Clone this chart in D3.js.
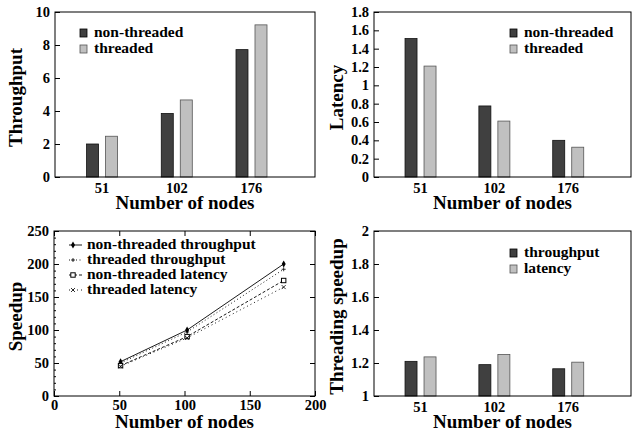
<!DOCTYPE html>
<html>
<head>
<meta charset="utf-8">
<script src="https://cdn.jsdelivr.net/npm/d3@7"></script>
<style>
  body { margin: 0; background: #fff; }
</style>
</head>
<body>
<svg id="chart" width="633" height="434"></svg>
<script>
// node counts used in the bar charts
var nodes = ["51", "102", "176"];
var nodeNums = [51, 102, 176];

// throughput
var tputNon = [2.0, 3.85, 7.72];
var tputThr = [2.47, 4.67, 9.22];

// latency
var latNon = [1.51, 0.775, 0.40];
var latThr = [1.21, 0.61, 0.325];

// speedup vs node count
var spNonTput = [52, 100, 200];
var spThrTput = [50, 97, 192];
var spNonLat = [46, 90, 175];
var spThrLat = [45, 88, 165];

// threading speedup
var thrSpTput = [1.21, 1.19, 1.165];
var thrSpLat = [1.237, 1.252, 1.205];

var tputTicks = [0, 2, 4, 6, 8, 10];
var latTicks = [0, 0.2, 0.4, 0.6, 0.8, 1, 1.2, 1.4, 1.6, 1.8];
var spTicks = [0, 50, 100, 150, 200, 250];
var spXTicks = [0, 50, 100, 150, 200];
var thrTicks = [1, 1.2, 1.4, 1.6, 1.8, 2];

var FONT = "'Liberation Serif', 'Times New Roman', serif";
var svg = d3.select("#chart");
var dark = "#404040", light = "#c0c0c0";

function txt(sel, size) {
  return sel.attr("font-family", FONT).attr("font-weight", "bold")
    .style("font-family", FONT).style("font-weight", "bold")
    .style("font-size", size + "px").attr("fill", "#000");
}

function frame(g, b) {
  g.append("rect")
    .attr("x", b.x0).attr("y", b.y0)
    .attr("width", b.x1 - b.x0).attr("height", b.y1 - b.y0)
    .attr("fill", "none").attr("stroke", "#000").attr("stroke-width", 1);
}

function yAxis(g, b, y, ticks, mirror) {
  g.append("g")
    .attr("transform", "translate(" + b.x0 + ",0)")
    .call(d3.axisLeft(y).tickValues(ticks).tickSize(-5).tickPadding(5).tickFormat(d3.format("")))
    .call(function(a) {
      a.attr("font-family", null).attr("font-size", null);
      a.select(".domain").remove();
      txt(a.selectAll("text"), 14.5);
    });
  if (mirror) {
    g.append("g")
      .attr("transform", "translate(" + b.x1 + ",0)")
      .call(d3.axisRight(y).tickValues(ticks).tickSize(-5).tickFormat(""))
      .call(function(a) { a.select(".domain").remove(); });
  }
}

function titles(g, b, ytitle, ytx) {
  txt(g.append("text"), 19)
    .attr("x", (b.x0 + b.x1) / 2).attr("y", b.y1 + 32)
    .attr("text-anchor", "middle")
    .text("Number of nodes");
  txt(g.append("text"), 19)
    .attr("transform", "translate(" + ytx + "," + ((b.y0 + b.y1) / 2 + 3) + ") rotate(-90)")
    .attr("text-anchor", "middle")
    .text(ytitle);
}

function legendBoxes(g, lx, ly, labels) {
  labels.forEach(function(l, i) {
    g.append("rect")
      .attr("x", lx).attr("y", ly + i * 16 - 8)
      .attr("width", 7).attr("height", 8)
      .attr("fill", i == 0 ? dark : light)
      .attr("stroke", i == 0 ? "#000" : "#555").attr("stroke-width", 0.8);
    txt(g.append("text"), 15.5)
      .attr("x", lx + 14).attr("y", ly + i * 16)
      .text(l);
  });
}

function barPanel(b, series, ticks, ytitle, ytx, legend, lx, ly) {
  var g = svg.append("g");
  var x = d3.scaleLinear().domain([-0.63, 2.85]).range([b.x0, b.x1]);
  var y = d3.scaleLinear().domain([ticks[0], ticks[ticks.length - 1]]).range([b.y1, b.y0]);

  series.forEach(function(vals, si) {
    g.selectAll(null).data(vals).enter().append("rect")
      .attr("x", function(d, i) { return x(i) + (si == 0 ? -15.5 : 3.5); })
      .attr("width", 12)
      .attr("y", function(d) { return y(d); })
      .attr("height", function(d) { return y(ticks[0]) - y(d); })
      .attr("fill", si == 0 ? dark : light)
      .attr("stroke", si == 0 ? "#111" : "#555")
      .attr("stroke-width", 0.8);
  });

  frame(g, b);
  yAxis(g, b, y, ticks, false);

  txt(g.selectAll(null).data(nodes).enter().append("text"), 14.5)
    .attr("x", function(d, i) { return x(i); })
    .attr("y", b.y1 + 16)
    .attr("text-anchor", "middle")
    .text(function(d) { return d; });

  titles(g, b, ytitle, ytx);
  legendBoxes(g, lx, ly, legend);
}

// top-left: throughput
barPanel({x0: 55, x1: 315, y0: 12, y1: 177}, [tputNon, tputThr], tputTicks,
  "Throughput", 22, ["non-threaded", "threaded"], 80, 37);

// top-right: latency
barPanel({x0: 374, x1: 631, y0: 12, y1: 177}, [latNon, latThr], latTicks,
  "Latency", 343, ["non-threaded", "threaded"], 510, 37);

// bottom-right: threading speedup
barPanel({x0: 374, x1: 631, y0: 231, y1: 396}, [thrSpTput, thrSpLat], thrTicks,
  "Threading speedup", 343, ["throughput", "latency"], 510, 257);

// bottom-left: speedup line chart
(function() {
  var b = {x0: 54, x1: 315, y0: 231, y1: 396};
  var g = svg.append("g");
  var x = d3.scaleLinear().domain([0, 200]).range([b.x0, b.x1]);
  var y = d3.scaleLinear().domain([0, 250]).range([b.y1, b.y0]);

  frame(g, b);
  yAxis(g, b, y, spTicks, true);

  // minor ticks on y
  g.append("g").attr("transform", "translate(" + b.x0 + ",0)")
    .call(d3.axisLeft(y).tickValues(d3.range(0, 251, 10)).tickSize(-2).tickFormat(""))
    .call(function(a) { a.select(".domain").remove(); });

  g.append("g").attr("transform", "translate(0," + b.y1 + ")")
    .call(d3.axisBottom(x).tickValues(spXTicks).tickSize(-5).tickPadding(4))
    .call(function(a) {
      a.attr("font-family", null).attr("font-size", null);
      a.select(".domain").remove();
      txt(a.selectAll("text"), 14.5);
    });
  g.append("g").attr("transform", "translate(0," + b.y0 + ")")
    .call(d3.axisTop(x).tickValues(spXTicks).tickSize(-5).tickFormat(""))
    .call(function(a) { a.select(".domain").remove(); });

  var lines = [
    {name: "non-threaded throughput", vals: spNonTput, dash: null, mark: "diamond"},
    {name: "threaded throughput", vals: spThrTput, dash: "1,2.5", mark: "plus"},
    {name: "non-threaded latency", vals: spNonLat, dash: "3,2", mark: "square"},
    {name: "threaded latency", vals: spThrLat, dash: "1,3", mark: "cross"}
  ];

  var line = d3.line()
    .x(function(d, i) { return x(nodeNums[i]); })
    .y(function(d) { return y(d); });

  function marker(sel, kind, cx, cy) {
    if (kind == "diamond") {
      sel.append("path").attr("d", d3.symbol(d3.symbolDiamond, 14)())
        .attr("transform", "translate(" + cx + "," + cy + ")").attr("fill", "#000");
    } else if (kind == "plus") {
      sel.append("path").attr("d", "M" + (cx - 2) + "," + cy + "h4M" + cx + "," + (cy - 2) + "v4")
        .attr("stroke", "#000").attr("stroke-width", 0.8);
    } else if (kind == "square") {
      sel.append("rect").attr("x", cx - 2.2).attr("y", cy - 2.2).attr("width", 4.4).attr("height", 4.4)
        .attr("fill", "#fff").attr("stroke", "#000").attr("stroke-width", 1);
    } else {
      sel.append("path").attr("d", "M" + (cx - 2) + "," + (cy - 2) + "l4,4M" + (cx - 2) + "," + (cy + 2) + "l4,-4")
        .attr("stroke", "#000").attr("stroke-width", 0.8);
    }
  }

  lines.forEach(function(l, li) {
    g.append("path").datum(l.vals).attr("d", line)
      .attr("fill", "none").attr("stroke", "#000").attr("stroke-width", 0.9)
      .attr("stroke-dasharray", l.dash);
    l.vals.forEach(function(v, i) { marker(g, l.mark, x(nodeNums[i]), y(v)); });

    var ly = 249 + li * 15;
    g.append("line").attr("x1", 69).attr("x2", 82).attr("y1", ly - 4).attr("y2", ly - 4)
      .attr("stroke", "#000").attr("stroke-width", 0.9).attr("stroke-dasharray", l.dash);
    marker(g, l.mark, 73, ly - 4);
    txt(g.append("text"), 15.5).attr("x", 87).attr("y", ly).text(l.name);
  });

  titles(g, b, "Speedup", 22);
})();
</script>
</body>
</html>
